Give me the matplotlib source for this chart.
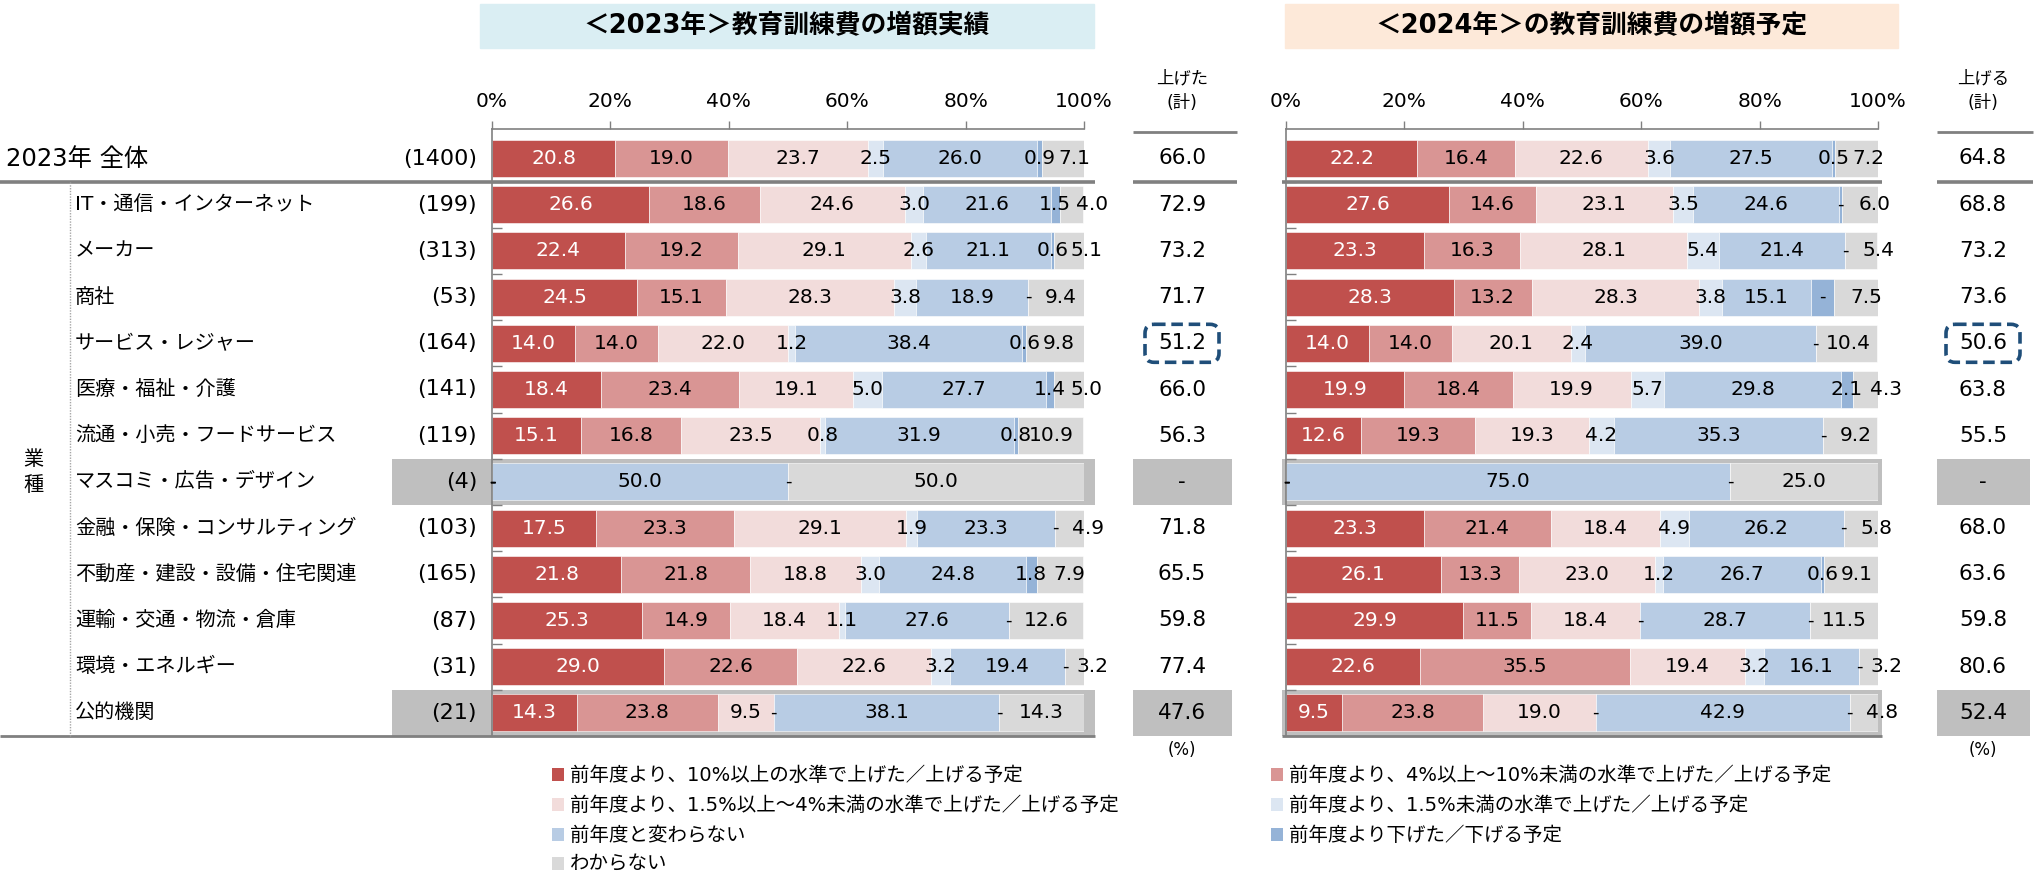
import numpy as np
import matplotlib
matplotlib.use("Agg")
import matplotlib.pyplot as plt
from matplotlib.patches import Rectangle, FancyBboxPatch

plt.rcParams['font.family'] = ['DejaVu Sans', 'Noto Sans CJK JP']

categories = ["2023年 全体", "IT・通信・インターネット", "メーカー", "商社", "サービス・レジャー",
              "医療・福祉・介護", "流通・小売・フードサービス", "マスコミ・広告・デザイン",
              "金融・保険・コンサルティング", "不動産・建設・設備・住宅関連", "運輸・交通・物流・倉庫",
              "環境・エネルギー", "公的機関"]
counts = ["(1400)", "(199)", "(313)", "(53)", "(164)", "(141)", "(119)", "(4)",
          "(103)", "(165)", "(87)", "(31)", "(21)"]

legend_labels = ["前年度より、10%以上の水準で上げた／上げる予定",
                 "前年度より、4%以上～10%未満の水準で上げた／上げる予定",
                 "前年度より、1.5%以上～4%未満の水準で上げた／上げる予定",
                 "前年度より、1.5%未満の水準で上げた／上げる予定",
                 "前年度と変わらない",
                 "前年度より下げた／下げる予定",
                 "わからない"]

# 2023年 実績
up10_23 = [20.8, 26.6, 22.4, 24.5, 14.0, 18.4, 15.1, 0, 17.5, 21.8, 25.3, 29.0, 14.3]
up4_23 = [19.0, 18.6, 19.2, 15.1, 14.0, 23.4, 16.8, 0, 23.3, 21.8, 14.9, 22.6, 23.8]
up15_23 = [23.7, 24.6, 29.1, 28.3, 22.0, 19.1, 23.5, 0, 29.1, 18.8, 18.4, 22.6, 9.5]
uplow_23 = [2.5, 3.0, 2.6, 3.8, 1.2, 5.0, 0.8, 0, 1.9, 3.0, 1.1, 3.2, 0]
same_23 = [26.0, 21.6, 21.1, 18.9, 38.4, 27.7, 31.9, 50.0, 23.3, 24.8, 27.6, 19.4, 38.1]
down_23 = [0.9, 1.5, 0.6, 0, 0.6, 1.4, 0.8, 0, 0, 1.8, 0, 0, 0]
unk_23 = [7.1, 4.0, 5.1, 9.4, 9.8, 5.0, 10.9, 50.0, 4.9, 7.9, 12.6, 3.2, 14.3]
sum_23 = ["66.0", "72.9", "73.2", "71.7", "51.2", "66.0", "56.3", "-",
          "71.8", "65.5", "59.8", "77.4", "47.6"]

# 2024年 予定
up10_24 = [22.2, 27.6, 23.3, 28.3, 14.0, 19.9, 12.6, 0, 23.3, 26.1, 29.9, 22.6, 9.5]
up4_24 = [16.4, 14.6, 16.3, 13.2, 14.0, 18.4, 19.3, 0, 21.4, 13.3, 11.5, 35.5, 23.8]
up15_24 = [22.6, 23.1, 28.1, 28.3, 20.1, 19.9, 19.3, 0, 18.4, 23.0, 18.4, 19.4, 19.0]
uplow_24 = [3.6, 3.5, 5.4, 3.8, 2.4, 5.7, 4.2, 0, 4.9, 1.2, 0, 3.2, 0]
same_24 = [27.5, 24.6, 21.4, 15.1, 39.0, 29.8, 35.3, 75.0, 26.2, 26.7, 28.7, 16.1, 42.9]
down_24 = [0.5, 0.6, 0, 3.8, 0, 2.1, 0, 0, 0, 0.6, 0, 0, 0]
unk_24 = [7.2, 6.0, 5.4, 7.5, 10.4, 4.3, 9.2, 25.0, 5.8, 9.1, 11.5, 3.2, 4.8]
sum_24 = ["64.8", "68.8", "73.2", "73.6", "50.6", "63.8", "55.5", "-",
          "68.0", "63.6", "59.8", "80.6", "52.4"]
# cells printed as "-" in the source even though a sliver is drawn
dash_24 = {(1, 5), (3, 5)}

colors = ["#C0504D", "#D99594", "#F2DCDB", "#DCE6F2", "#B8CCE4", "#95B3D7", "#D9D9D9"]
highlight = [7, 12]
boxed = 4

W, H = 2035, 874
ROW0, ROW_H = 158.5, 46.2
AX_TOP, AX_BOTTOM = 129, 736
n = len(categories)


def row_px(i):
    return ROW0 + ROW_H * i


fig = plt.figure(figsize=(W / 100, H / 100), dpi=100)
bg = fig.add_axes([0, 0, 1, 1], zorder=0)
bg.set_xlim(0, W)
bg.set_ylim(H, 0)
bg.axis("off")

# title boxes
bg.add_patch(Rectangle((480, 4), 614, 44, color="#DAEEF3"))
bg.text(787, 26, "＜2023年＞教育訓練費の増額実績", ha="center", va="center",
        fontsize=18.5, fontweight="bold")
bg.add_patch(Rectangle((1285, 4), 613, 44, color="#FDE9D9"))
bg.text(1591, 26, "＜2024年＞の教育訓練費の増額予定", ha="center", va="center",
        fontsize=18.5, fontweight="bold")

# highlighted rows
for i in highlight:
    y = row_px(i) - ROW_H / 2
    for xa, xb in [(392, 1095), (1133, 1232), (1282, 1882), (1937, 2030)]:
        bg.add_patch(Rectangle((xa, y), xb - xa, ROW_H, color="#BFBFBF", lw=0))

# separator lines
sep = row_px(0.5)
for xa, xb in [(0, 1095), (1133, 1237), (1282, 1882), (1937, 2033)]:
    bg.plot([xa, xb], [sep, sep], color="#808080", lw=2.6, solid_capstyle="butt")
for xa, xb in [(1133, 1237), (1937, 2033)]:
    bg.plot([xa, xb], [132, 132], color="#808080", lw=2.0, solid_capstyle="butt")
for xa, xb in [(0, 1095), (1282, 1882)]:
    bg.plot([xa, xb], [AX_BOTTOM, AX_BOTTOM], color="#808080", lw=2.0, solid_capstyle="butt")
bg.plot([70, 70], [sep, AX_BOTTOM], color="#A6A6A6", lw=1, ls=(0, (1, 1)))

# row labels
bg.text(6, row_px(0), categories[0], ha="left", va="center", fontsize=17.5)
for i in range(1, n):
    bg.text(75, row_px(i), categories[i], ha="left", va="center", fontsize=14.5)
for i in range(n):
    bg.text(477, row_px(i), counts[i], ha="right", va="center", fontsize=16)
bg.text(33, row_px(6.8), "業\n種", ha="center", va="center", fontsize=14.5, linespacing=1.5)

# sum columns
for xc, head, sums in [(1182, "上げた\n(計)", sum_23), (1983, "上げる\n(計)", sum_24)]:
    bg.text(xc, 91, head, ha="center", va="center", fontsize=12.5, linespacing=1.45)
    for i in range(n):
        bg.text(xc, row_px(i), sums[i], ha="center", va="center", fontsize=15.5)
    bg.text(xc, 750, "(%)", ha="center", va="center", fontsize=12)
    bg.add_patch(FancyBboxPatch((xc - 33, row_px(boxed) - 15), 66, 30,
                                boxstyle="round,pad=4,rounding_size=9", fill=False,
                                ec="#1F4E79", lw=2.6, ls=(0, (3.2, 1.6))))

# legend
leg_pos = [(558, 775), (1277, 775), (558, 805), (1277, 805), (558, 835), (1277, 835), (558, 864)]
for (lx, ly), lab, col in zip(leg_pos, legend_labels, colors):
    bg.add_patch(Rectangle((lx - 6, ly - 7), 12, 13, color=col, lw=0))
    bg.text(lx + 12, ly, lab, ha="left", va="center", fontsize=14)


def make_axes(x0, x1):
    ax = fig.add_axes([x0 / W, 1 - AX_BOTTOM / H, (x1 - x0) / W, (AX_BOTTOM - AX_TOP) / H], zorder=2)
    ax.patch.set_alpha(0)
    ax.set_xlim(0, 100)
    ax.set_ylim((AX_BOTTOM - ROW0) / ROW_H, (AX_TOP - ROW0) / ROW_H)
    ax.xaxis.tick_top()
    ax.set_xticks(np.arange(0, 101, 20))
    ax.set_xticklabels([f"{t}%" for t in range(0, 101, 20)])
    ax.tick_params(axis="x", direction="out", length=6, width=1, color="#808080",
                   labelsize=14.5, pad=7)
    ax.set_yticks(np.arange(0.5, n - 0.5, 1))
    ax.set_yticklabels([])
    ax.tick_params(axis="y", direction="in", length=7, width=1, color="#808080")
    for s in ["right", "bottom"]:
        ax.spines[s].set_visible(False)
    for s in ["top", "left"]:
        ax.spines[s].set_color("#808080")
        ax.spines[s].set_linewidth(1.2)
    return ax


def draw_panel(ax, series, dash_cells):
    y = np.arange(n)
    left = np.zeros(n)
    last = len(series) - 1
    for k, (vals, col) in enumerate(zip(series, colors)):
        vals = np.array(vals, dtype=float)
        ax.barh(y, vals, left=left, height=0.8, color=col, edgecolor="white", linewidth=0.4)
        for i, v in enumerate(vals):
            if v == 0 or (i, k) in dash_cells:
                ax.text(left[i] + v / 2, i, "-", ha="center", va="center", fontsize=13, color="black")
                continue
            xc = left[i] + v / 2
            if k == last and v < 11:
                xc = min(xc + (11 - v) * 0.5, 101.5)
            ax.text(xc, i, f"{v:.1f}", ha="center", va="center", fontsize=14.5,
                    color="white" if k == 0 else "black")
        left += vals


ax23 = make_axes(492, 1084)
draw_panel(ax23, [up10_23, up4_23, up15_23, uplow_23, same_23, down_23, unk_23], set())
ax24 = make_axes(1286, 1878)
draw_panel(ax24, [up10_24, up4_24, up15_24, uplow_24, same_24, down_24, unk_24], dash_24)

fig.savefig("out.png", dpi=100)
